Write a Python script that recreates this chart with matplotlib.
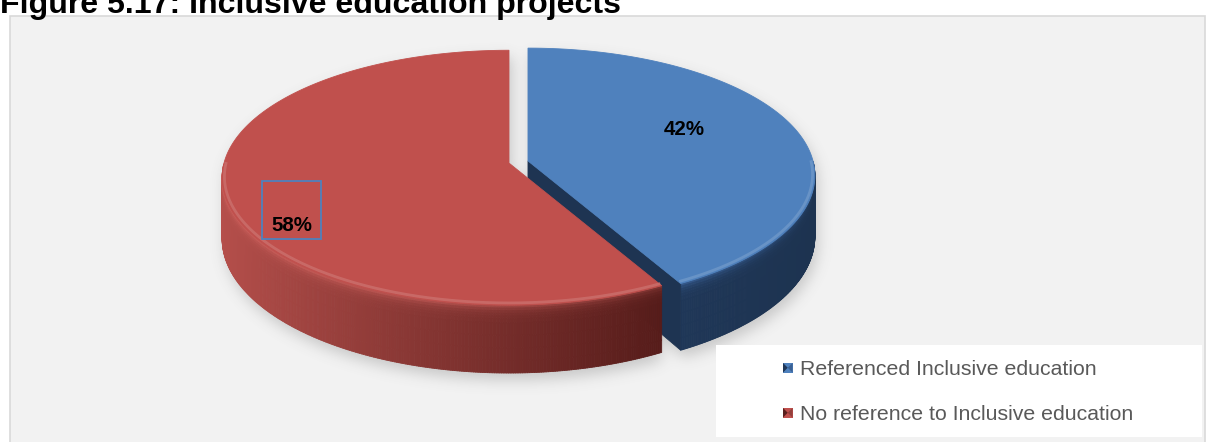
import numpy as np
import matplotlib
matplotlib.use("Agg")
import matplotlib.pyplot as plt
from matplotlib.patches import Polygon, Rectangle
from matplotlib.collections import PolyCollection
from matplotlib.path import Path
from matplotlib.colors import to_rgb

plt.rcParams['font.family'] = ['Liberation Sans', 'DejaVu Sans']

# ---- data ----
title = "Figure 5.17: Inclusive education projects"
categories = ["Referenced Inclusive education", "No reference to Inclusive education"]
shares = [42, 58]
value_labels = ["42%", "58%"]

# ---- styles ----
top_colors = ["#4f81bd", "#c0504d"]
side_left = ["#1f3758", "#b54f4b"]     # side colour at the left end of the wall
side_right = ["#1d3350", "#561c1a"]    # side colour at the right end of the wall
rim_colors = ["#3a629a", "#cf625e"]    # rounded rim just below the top face
cut_colors = ["#1e3452", "#5e2220"]
marker_dark = ["#1f3656", "#5a1f1d"]
marker_mid = ["#3a6194", "#93403c"]

W, H, DPI = 1206, 442, 100
fig = plt.figure(figsize=(W / DPI, H / DPI), dpi=DPI)
ax = fig.add_axes([0, 0, 1, 1])
ax.set_xlim(0, W)
ax.set_ylim(H, 0)
ax.axis('off')

# chart area
ax.add_patch(Rectangle((9.5, 15.5), 1195, 440, facecolor="#f2f2f2",
                       edgecolor="#d9d9d9", lw=1.2, zorder=0))

# ---- 3-D pie geometry (pixel space) ----
CX, CY = 518.5, 162.0
RA, RB = 285.0, 125.8
DEPTH = 60.0
PERSP = 0.115
EXPLODE = 0.0344
START = 90.0


def pt(cx, cy, r, th, drop=0.0):
    s = 1.0 / (1.0 + PERSP * r * np.sin(th))
    return cx + RA * r * np.cos(th) * s, cy - RB * r * np.sin(th) * s + drop * s


fracs = np.array(shares, dtype=float) / np.sum(shares)
slices = []
a = np.radians(START)
for f in fracs:
    a2 = a - 2 * np.pi * f
    mid = 0.5 * (a + a2)
    c = pt(CX, CY, EXPLODE, mid)
    slices.append((a2, a, c))
    a = a2


def slice_poly(t1, t2, c, drop=0.0, n=300):
    th = np.linspace(t1, t2, n)
    xs, ys = pt(c[0], c[1], 1.0, th, drop)
    cx, cy = pt(c[0], c[1], 0.0, 0.0, drop)
    return np.vstack([[cx, cy], np.column_stack([xs, ys])])


# ---- soft drop shadow ----
yy, xx = np.mgrid[0:H, 0:W]
grid = np.column_stack([xx.ravel() + 0.5, yy.ravel() + 0.5])
mask = np.zeros(H * W, dtype=bool)
for t1, t2, c in slices:
    for d in np.linspace(0, DEPTH, 8):
        poly = slice_poly(t1, t2, c, d, 200) + np.array([3.0, 7.0])
        mask |= Path(poly).contains_points(grid)
mask = mask.reshape(H, W).astype(float)


def blur1d(arr, sigma, axis):
    rad = int(3 * sigma)
    k = np.exp(-0.5 * (np.arange(-rad, rad + 1) / sigma) ** 2)
    k /= k.sum()
    pad = [(0, 0), (0, 0)]
    pad[axis] = (rad, rad)
    p = np.pad(arr, pad, mode='edge')
    out = np.zeros_like(arr)
    n = arr.shape[axis]
    for i, kv in enumerate(k):
        sl = [slice(None), slice(None)]
        sl[axis] = slice(i, i + n)
        out += kv * p[tuple(sl)]
    return out


shadow = blur1d(blur1d(mask, 7.0, 0), 7.0, 1)
rgba = np.zeros((H, W, 4))
rgba[..., :3] = 0.35
rgba[..., 3] = shadow * 0.28
ax.imshow(rgba, extent=(0, W, H, 0), zorder=1, aspect='auto', interpolation='bilinear')
ax.set_xlim(0, W)
ax.set_ylim(H, 0)


def mix(c1, c2, t):
    c1 = np.array(to_rgb(c1))
    c2 = np.array(to_rgb(c2))
    return c1 + (c2 - c1) * np.clip(t, 0, 1)


# ---- draw slices: blue (back-right) first, then red ----
z = 2
for i, (t1, t2, c) in enumerate(slices):
    # outer wall on the front half
    th = np.linspace(t1, t2, 500)
    th = th[np.sin(th) < 0]
    if th.size > 1:
        vs = np.concatenate([np.linspace(0, 0.2, 6), np.linspace(0.26, 1.0, 5)])
        xt, _ = pt(c[0], c[1], 1.0, th)
        x0, x1 = xt.min(), xt.max()
        verts, cols = [], []
        for j in range(th.size - 1):
            xm = 0.5 * (xt[j] + xt[j + 1])
            u = (xm - x0) / max(x1 - x0, 1.0)
            base = mix(side_left[i], side_right[i], u ** 0.9)
            for k in range(vs.size - 1):
                pa = pt(c[0], c[1], 1.0, th[j], DEPTH * vs[k])
                pb = pt(c[0], c[1], 1.0, th[j + 1], DEPTH * vs[k])
                pc = pt(c[0], c[1], 1.0, th[j + 1], DEPTH * vs[k + 1])
                pd = pt(c[0], c[1], 1.0, th[j], DEPTH * vs[k + 1])
                verts.append([pa, pb, pc, pd])
                vm = 0.5 * (vs[k] + vs[k + 1])
                w = np.exp(-vm / 0.07)
                cols.append(mix(base, rim_colors[i], w * (1 - 0.6 * u)))
        ax.add_collection(PolyCollection(verts, facecolors=cols, edgecolors=cols,
                                         linewidths=0.6, zorder=z))
    # radial cut faces that turn toward the viewer
    for edge, normal in ((t1, t1 - np.pi / 2), (t2, t2 + np.pi / 2)):
        if np.sin(normal) < -1e-6:
            p_ct = pt(c[0], c[1], 0.0, 0.0)
            p_rt = pt(c[0], c[1], 1.0, edge)
            p_rb = pt(c[0], c[1], 1.0, edge, DEPTH)
            p_cb = pt(c[0], c[1], 0.0, 0.0, DEPTH)
            ax.add_patch(Polygon([p_ct, p_rt, p_rb, p_cb], closed=True,
                                 facecolor=cut_colors[i], edgecolor=cut_colors[i],
                                 lw=0.6, zorder=z + 0.5))
    # top face
    ax.add_patch(Polygon(slice_poly(t1, t2, c), closed=True, facecolor=top_colors[i],
                         edgecolor=top_colors[i], lw=0.6, zorder=z + 1))
    # light bevel along the front rim
    thr = np.linspace(t1, t2, 400)
    thr = thr[np.sin(thr) < 0]
    if thr.size > 1:
        xr, yr = pt(c[0], c[1], 0.992, thr)
        hl = mix(top_colors[i], "#ffffff", 0.18)
        ax.plot(xr, yr - 1.0, color=hl, lw=2.0, alpha=0.8, zorder=z + 1.2,
                solid_capstyle='butt')
    z += 3

# ---- value labels ----
label_pos = [(684.5, 135.0), (292.0, 231.0)]
for (lx, ly), txt in zip(label_pos, value_labels):
    ax.text(lx, ly, txt, ha='center', va='baseline', fontsize=14.8,
            fontweight='bold', color='black', zorder=20)
ax.add_patch(Rectangle((262, 181), 59, 58, facecolor='none', edgecolor="#4f81bd",
                       lw=1.3, zorder=20))

# ---- legend ----
ax.add_patch(Rectangle((716, 345), 486, 92, facecolor='white', edgecolor='none', zorder=15))
leg_base = [375.0, 420.0]
for i, (name, yb) in enumerate(zip(categories, leg_base)):
    mx0, my0, ms = 783.0, yb - 12.0, 9.5
    ax.add_patch(Rectangle((mx0, my0), ms, ms, facecolor=top_colors[i],
                           edgecolor='none', zorder=16))
    cxm, cym = mx0 + ms / 2, my0 + ms / 2
    ax.add_patch(Polygon([(mx0, my0), (cxm, cym), (mx0, my0 + ms)], closed=True,
                         facecolor=marker_dark[i], edgecolor='none', zorder=17))
    ax.add_patch(Polygon([(mx0 + ms, my0), (cxm, cym), (mx0 + ms, my0 + ms)], closed=True,
                         facecolor=marker_mid[i], edgecolor='none', zorder=17))
    ax.text(800, yb, name, ha='left', va='baseline', fontsize=15.3,
            color="#595959", zorder=17)

# ---- title ----
ax.text(0, 13, title, ha='left', va='baseline', fontsize=23.1, fontweight='bold',
        color='black', zorder=20)

fig.savefig("out.png", dpi=DPI)
